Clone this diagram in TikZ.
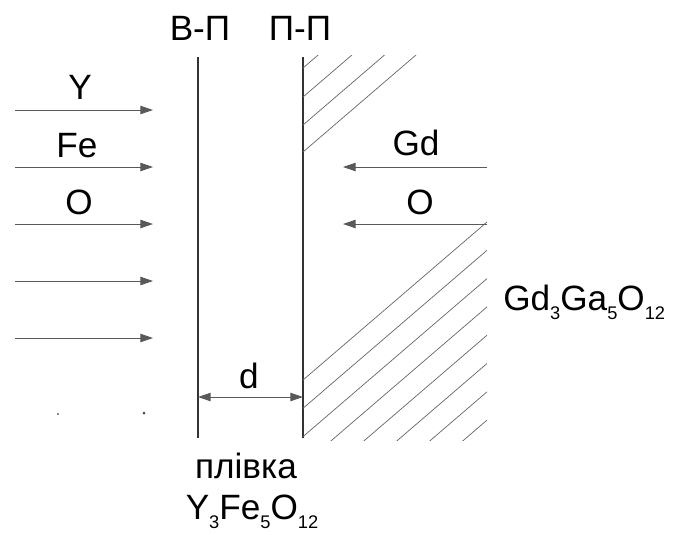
\documentclass[tikz,border=0pt]{standalone}
\usepackage{fontspec}
\setmainfont{Liberation Sans}
\usetikzlibrary{arrows.meta}

\newcommand\lowix[1]{\raisebox{-.5ex}{\fontsize{13}{13}\selectfont #1}}

\begin{document}
\begin{tikzpicture}[x=.025cm,y=-.025cm,
  flux/.style={draw=black!65,line width=.6pt,-{Triangle[length=9pt,width=6pt]}},
  wall/.style={draw=black!80,line width=.9pt},
  hatch/.style={draw=black!60,line width=.5pt},
  lbl/.style={font=\fontsize{25}{29}\selectfont,inner sep=0pt}]
  \useasboundingbox (0,0) rectangle (675,534);
  % boundaries of the film
  \coordinate (vtop) at (198,57);
  \coordinate (vbot) at (198,438);
  \coordinate (ptop) at (303,57);
  \coordinate (pbot) at (303,438);
  \draw [wall] (vtop) -- (vbot);
  \draw [wall] (ptop) -- (pbot);
  \node [lbl] (vp) at (200,28) {В-П};
  \node [lbl] (pp) at (300,28) {П-П};
  % substrate hatching
  \begin{scope}
    \clip (303,55) rectangle (487,440);
    \foreach \y in {68,97,125,152}
      \draw [hatch] (303,\y) -- +(184,-158);
    \foreach \k in {0,...,7}
      \draw [hatch] (487,222+28.3*\k) -- +(-184,158);
  \end{scope}
  % fluxes from the vapour
  \foreach \i/\y in {1/110,2/167,3/224,4/281,5/338} {
    \coordinate (s\i) at (15,\y);
    \coordinate (e\i) at (153,\y);
    \draw [flux] (s\i) -- (e\i);
  }
  \fill [black!60] (58,414) circle (1.2);
  \fill [black!70] (144,413) circle (1.5);
  \node [lbl] (ny) at (80,87) {Y};
  \node [lbl] (nfe) at (77,146) {Fe};
  \node [lbl] (no) at (79,202) {O};
  % fluxes from the substrate
  \coordinate (gds) at (487,167);
  \coordinate (gde) at (343,167);
  \coordinate (os) at (487,224);
  \coordinate (oe) at (343,224);
  \draw [flux] (gds) -- (gde);
  \draw [flux] (os) -- (oe);
  \node [lbl] (ngd) at (416,143) {Gd};
  \node [lbl] (nos) at (420,202) {O};
  % thickness
  \coordinate (dl) at (198,397);
  \coordinate (dr) at (303,397);
  \draw [flux,{Triangle[length=9pt,width=6pt]}-{Triangle[length=9pt,width=6pt]}] (dl) -- (dr);
  \node [lbl] (nd) at (249,376) {d};
  \node [lbl] (film) at (246,466) {плівка};
  \node [lbl] (yig) at (252,512) {Y\lowix{3}Fe\lowix{5}O\lowix{12}};
  \node [lbl,anchor=west] (ggg) at (503,302) {Gd\lowix{3}Ga\lowix{5}O\lowix{12}};
\end{tikzpicture}
\end{document}
